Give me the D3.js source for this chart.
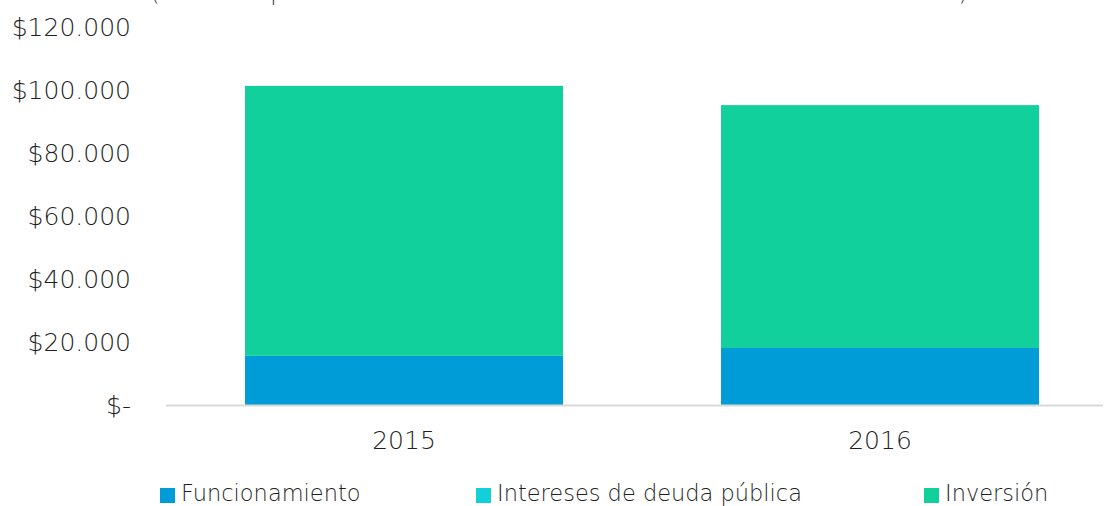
<!DOCTYPE html>
<html>
<head>
<meta charset="utf-8">
<script src="https://cdn.jsdelivr.net/npm/d3@7.7.0/dist/d3.min.js"></script>
<style>
  body { margin: 0; background: #fff; }
  svg { display: block; font-family: "DejaVu Sans", sans-serif; font-weight: 200; }
</style>
</head>
<body>
<div id="chart"></div>
<script>
// data
const years = ["2015", "2016"];
const funcionamiento = [15600, 18100];
const intereses = [0, 0];
const inversion = [85700, 77100];
const seriesNames = ["Funcionamiento", "Intereses de deuda pública", "Inversión"];
const seriesColors = ["#009cd8", "#13cfd9", "#12d09b"];
const yTicks = [0, 20000, 40000, 60000, 80000, 100000, 120000];
const titleText = "(Miles de pesos corrientes de Funcionamiento e Inversión totales)";

const width = 1104;
const height = 506;
const margin = { top: 27, right: 0, bottom: 101, left: 166 };
const textColor = "#1f1f1f";

const svg = d3.select("#chart")
  .append("svg")
  .attr("width", width)
  .attr("height", height);

// title sits mostly above the visible area
svg.append("text")
  .attr("x", 150)
  .attr("y", 0)
  .attr("textLength", 818)
  .attr("lengthAdjust", "spacingAndGlyphs")
  .style("font-size", "24px")
  .style("fill", "#404040")
  .text(titleText);

const x = d3.scaleBand()
  .domain(years)
  .range([margin.left, 1118])
  .paddingInner(0.332)
  .paddingOuter(0.166);

const y = d3.scaleLinear()
  .domain([0, 120000])
  .range([405, margin.top]);

// stack the series
const table = years.map((yr, i) => ({
  year: yr,
  "Funcionamiento": funcionamiento[i],
  "Intereses de deuda pública": intereses[i],
  "Inversión": inversion[i]
}));
const stacked = d3.stack().keys(seriesNames)(table);

// y axis labels
const fmt = (v) => v === 0 ? "$-" : "$" + d3.format(",")(v).replace(/,/g, ".");
svg.append("g")
  .attr("class", "y-axis")
  .attr("transform", "translate(131,0)")
  .call(d3.axisLeft(y).tickValues(yTicks).tickFormat(fmt).tickSize(0).tickPadding(0))
  .call(g => g.select(".domain").remove())
  .selectAll("text")
  .style("font-size", "25px")
  .style("fill", textColor)
  .style("font-family", "'DejaVu Sans', sans-serif");

// bars
svg.selectAll(".series")
  .data(stacked)
  .enter()
  .append("g")
  .attr("class", "series")
  .attr("fill", (d, i) => seriesColors[i])
  .selectAll("rect")
  .data(d => d)
  .enter()
  .append("rect")
  .attr("x", d => x(d.data.year))
  .attr("y", d => y(d[1]))
  .attr("width", x.bandwidth())
  .attr("height", d => y(d[0]) - y(d[1]));

// x axis
svg.append("g")
  .attr("class", "x-axis")
  .attr("transform", "translate(0,405.5)")
  .call(d3.axisBottom(x).tickSize(0).tickPadding(26))
  .call(g => g.select(".domain").remove())
  .selectAll("text")
  .style("font-size", "25px")
  .style("fill", textColor)
  .style("font-family", "'DejaVu Sans', sans-serif");

svg.append("line")
  .attr("x1", margin.left)
  .attr("x2", 1103)
  .attr("y1", 405.5)
  .attr("y2", 405.5)
  .attr("stroke", "#d9d9d9")
  .attr("stroke-width", 2);

// legend
const legendX = [160, 476, 924];
const legend = svg.append("g").attr("class", "legend");
seriesNames.forEach((name, i) => {
  legend.append("rect")
    .attr("x", legendX[i])
    .attr("y", 488)
    .attr("width", 15)
    .attr("height", 15)
    .attr("fill", seriesColors[i]);
  legend.append("text")
    .attr("x", legendX[i] + 21)
    .attr("y", 501)
    .style("font-size", "22.5px")
    .style("fill", textColor)
    .text(name);
});
</script>
</body>
</html>
